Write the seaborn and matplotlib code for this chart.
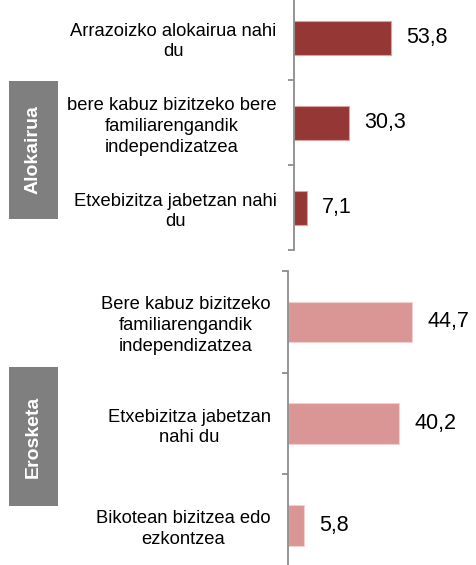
import matplotlib
matplotlib.use("Agg")
import matplotlib.pyplot as plt
import matplotlib.patches as mpatches
import seaborn as sns
import numpy as np

sns.set_style("white")
plt.rcParams['font.family'] = ['Liberation Sans', 'DejaVu Sans']

# ---- data ----
rent_labels = ["Arrazoizko alokairua nahi\ndu",
               "bere kabuz bizitzeko bere\nfamiliarengandik\nindependizatzea",
               "Etxebizitza jabetzan nahi\ndu"]
rent_values = [53.8, 30.3, 7.1]
buy_labels = ["Bere kabuz bizitzeko\nfamiliarengandik\nindependizatzea",
              "Etxebizitza jabetzan\nnahi du",
              "Bikotean bizitzea edo\nezkontzea"]
buy_values = [44.7, 40.2, 5.8]
group_names = ["Alokairua", "Erosketa"]

W, H = 477, 565
fig = plt.figure(figsize=(W / 100, H / 100), dpi=100)

def px_axes(left, top, right, bottom):
    return fig.add_axes([left / W, (H - bottom) / H, (right - left) / W, (bottom - top) / H])

ax1 = px_axes(294, -5, 474, 250)
ax2 = px_axes(288, 271, 474, 576)

spine_col = "#8c8c8c"

def draw(ax, labels, values, color, edge, xmax):
    sns.barplot(x=values, y=labels, ax=ax, color=color, width=0.4,
                edgecolor=edge, linewidth=0.8, saturation=1)
    ax.set_xlim(0, xmax)
    ax.set_ylim(2.5, -0.5)
    for s in ["top", "right", "bottom"]:
        ax.spines[s].set_visible(False)
    ax.spines["left"].set_color(spine_col)
    ax.spines["left"].set_linewidth(1.3)
    ax.set_xticks([])
    ax.set_xlabel("")
    ax.set_ylabel("")
    ax.set_yticks(range(len(labels)))
    ax.set_yticklabels(labels, multialignment="center", linespacing=1.3)
    ax.tick_params(axis="y", which="major", left=True, length=0, pad=12.5,
                   labelsize=13.2, labelcolor="black")
    ax.set_yticks([-0.5, 0.5, 1.5, 2.5], minor=True)
    ax.tick_params(axis="y", which="minor", left=True, length=4, width=1.3,
                   color=spine_col, direction="out")
    for bar, v in zip(ax.patches, values):
        ax.annotate(f"{v:.1f}".replace(".", ","),
                    xy=(bar.get_width(), bar.get_y() + bar.get_height() / 2),
                    xytext=(11, 0), textcoords="offset points",
                    ha="left", va="center", fontsize=15.5, color="black")

draw(ax1, rent_labels, rent_values, "#953735", "#d9a3a3", 100)
draw(ax2, buy_labels, buy_values, "#d99694", "#f2d0d0", 67.2)

# group boxes
boxes = [(9, 81, 58, 219), (9, 367, 58, 506)]
for (l, t, r, b), name in zip(boxes, group_names):
    rect = mpatches.Rectangle((l / W, (H - b) / H), (r - l) / W, (b - t) / H,
                              transform=fig.transFigure, facecolor="#7f7f7f",
                              edgecolor="none")
    fig.patches.append(rect)
    fig.text((l + r) / 2 / W, (H - (t + b) / 2) / H, name, rotation=90,
             ha="center", va="center", color="white", fontsize=14,
             fontweight="bold")

fig.savefig("out.png", dpi=100)
